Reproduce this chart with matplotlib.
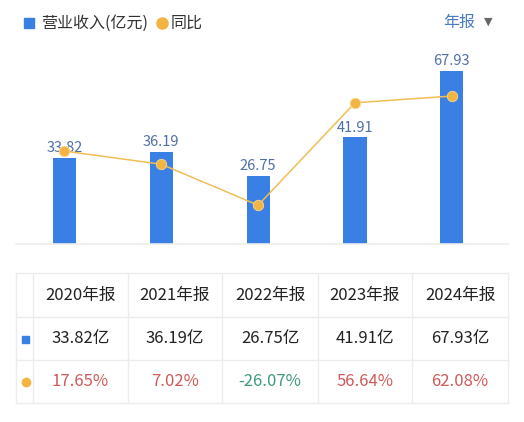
import matplotlib
matplotlib.use("Agg")
import matplotlib.pyplot as plt
from matplotlib.patches import Rectangle
from matplotlib.lines import Line2D

plt.rcParams['font.family'] = ['Noto Sans CJK SC', 'DejaVu Sans']

years = ["2020年报", "2021年报", "2022年报", "2023年报", "2024年报"]
revenue = [33.82, 36.19, 26.75, 41.91, 67.93]
yoy = [17.65, 7.02, -26.07, 56.64, 62.08]

BLUE = "#3A7FE3"
ORANGE = "#F2B544"
LABEL = "#4F6FA8"
RED = "#CF5A5A"
GREEN = "#3E9A78"
GRID = "#ECECEC"
TEXT = "#222222"

W, H = 524, 422
fig = plt.figure(figsize=(W / 100, H / 100), dpi=100)

def fx(px):
    return px / W

def fy(py):
    return 1 - py / H

# main chart axes
ax_left, ax_right, ax_top, ax_bot = 16, 508, 60, 244
ax = fig.add_axes([fx(ax_left), fy(ax_bot), fx(ax_right - ax_left), (ax_bot - ax_top) / H])
x = list(range(len(years)))
ax.bar(x, revenue, width=0.24, color=BLUE, zorder=2)
ax.set_xlim(-0.5, 4.58)
ax.set_ylim(0, 72.24)
for xi, v in zip(x, revenue):
    ax.text(xi, v + 1.0, f"{v:.2f}", ha="center", va="bottom", fontsize=10.5,
            color=LABEL, zorder=3)
for s in ["top", "right", "left"]:
    ax.spines[s].set_visible(False)
ax.spines["bottom"].set_color("#EEEEEE")
ax.spines["bottom"].set_linewidth(1.2)
ax.set_xticks([])
ax.set_yticks([])
ax.patch.set_alpha(0)

ax2 = ax.twinx()
ax2.plot(x, yoy, color="#F0BE55", lw=1.1, marker="o", ms=7.5, mfc=ORANGE,
         mec="#F8D890", mew=0.6, zorder=5)
ax2.set_ylim(-57.4, 91.2)
ax2.set_yticks([])
for s in ["top", "right", "left", "bottom"]:
    ax2.spines[s].set_visible(False)

# legend
fig.patches.append(Rectangle((fx(24), fy(28)), fx(10), 10 / H, color=BLUE,
                             transform=fig.transFigure, figure=fig))
fig.text(fx(41), fy(23), "营业收入(亿元)", fontsize=11.5, color="#333333",
         va="center", ha="left")
fig.lines.append(Line2D([fx(162)], [fy(23)], marker="o", ms=8, color=ORANGE,
                        transform=fig.transFigure, figure=fig))
fig.text(fx(171), fy(23), "同比", fontsize=11.5, color="#333333",
         va="center", ha="left")
fig.text(fx(443), fy(22), "年报", fontsize=11.5, color="#4A7BC0",
         va="center", ha="left")
fig.text(fx(488), fy(22), "▼", fontsize=8, color="#666666",
         va="center", ha="center", family="DejaVu Sans")

# table
col_edges = [16, 33, 128, 222, 318, 412, 508]
row_edges = [273, 317, 360, 403]
for cx in col_edges:
    fig.lines.append(Line2D([fx(cx), fx(cx)], [fy(row_edges[0]), fy(row_edges[-1])],
                            color=GRID, lw=1, transform=fig.transFigure, figure=fig))
for ry in row_edges:
    fig.lines.append(Line2D([fx(col_edges[0]), fx(col_edges[-1])], [fy(ry), fy(ry)],
                            color=GRID, lw=1, transform=fig.transFigure, figure=fig))

centers = [(col_edges[i + 1] + col_edges[i + 2]) / 2 for i in range(len(years))]
row_c = [(row_edges[i] + row_edges[i + 1]) / 2 for i in range(3)]
for cxp, yr in zip(centers, years):
    fig.text(fx(cxp), fy(row_c[0]), yr, fontsize=12, color=TEXT,
             ha="center", va="center")
for cxp, v in zip(centers, revenue):
    fig.text(fx(cxp), fy(row_c[1]), f"{v:.2f}亿", fontsize=12, color=TEXT,
             ha="center", va="center")
for cxp, v in zip(centers, yoy):
    fig.text(fx(cxp), fy(row_c[2]), f"{v:.2f}%", fontsize=12,
             color=(RED if v >= 0 else GREEN), ha="center", va="center")

fig.patches.append(Rectangle((fx(22), fy(343)), fx(7), 7 / H, color=BLUE,
                             transform=fig.transFigure, figure=fig))
fig.lines.append(Line2D([fx(25.5)], [fy(382)], marker="o", ms=6, color=ORANGE,
                        transform=fig.transFigure, figure=fig))

fig.savefig("out.png", dpi=100, facecolor="white")
